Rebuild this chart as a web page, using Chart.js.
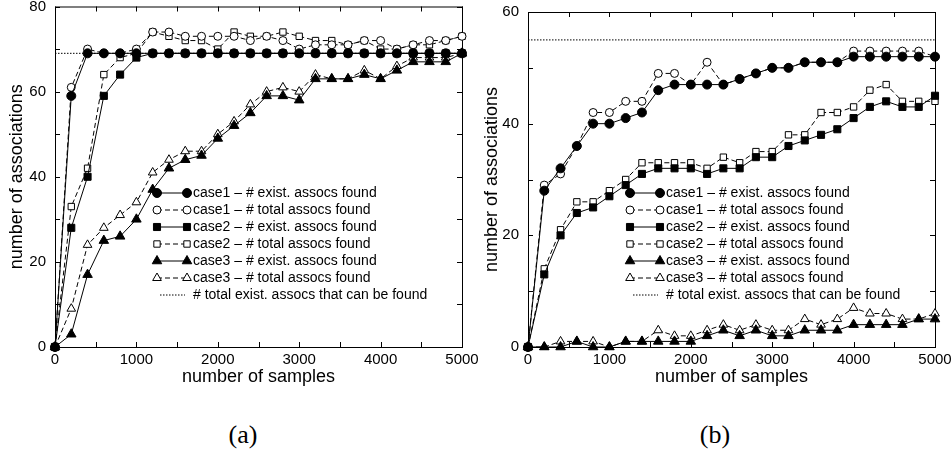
<!DOCTYPE html>
<html>
<head>
<meta charset="utf-8">
<script src="https://cdn.jsdelivr.net/npm/chart.js@4/dist/chart.umd.min.js"></script>
<style>
  body { margin: 0; background: #fff; width: 951px; height: 463px; overflow: hidden; position: relative; }
  .box { position: absolute; top: 0; }
  #boxA { left: 0; }
  #boxB { left: 475px; }
  .cap { position: absolute; top: 420px; width: 80px; text-align: center; line-height: 30px;
         font-family: "Liberation Serif", "DejaVu Serif", serif; font-size: 26px; color: #000; }
</style>
</head>
<body>
<div class="box" id="boxA"><canvas id="chartA" width="490" height="400"></canvas></div>
<div class="box" id="boxB"><canvas id="chartB" width="476" height="400"></canvas></div>
<div class="cap" style="left:203px">(a)</div>
<div class="cap" style="left:675px">(b)</div>
<script>
// number of samples (x positions of the points)
const samples = [0, 200, 400, 600, 800, 1000, 1200, 1400, 1600, 1800, 2000, 2200, 2400,
                 2600, 2800, 3000, 3200, 3400, 3600, 3800, 4000, 4200, 4400, 4600, 4800, 5000];

const labels = [
  'case1 \u2013 # exist. assocs found',
  'case1 \u2013 # total assocs found',
  'case2 \u2013 # exist. assocs found',
  'case2 \u2013 # total assocs found',
  'case3 \u2013 # exist. assocs found',
  'case3 \u2013 # total assocs found',
  '# total exist. assocs that can be found'
];

// (a)
const aCase1Exist = [0, 59, 69, 69, 69, 69, 69, 69, 69, 69, 69, 69, 69, 69, 69, 69, 69, 69, 69, 69, 69, 69, 69, 69, 69, 69];
const aCase1Total = [0, 61, 70, 69, 69, 70, 74, 74, 73, 73, 73, 73, 72, 73, 72, 70, 71, 71, 71, 72, 72, 70, 71, 72, 72, 73];
const aCase2Exist = [0, 28, 40, 59, 64, 68, 69, 69, 69, 69, 69, 69, 69, 69, 69, 69, 69, 69, 69, 69, 69, 69, 69, 69, 69, 69];
const aCase2Total = [0, 33, 42, 64, 68, 69, 74, 73, 72, 72, 70, 74, 73, 73, 74, 73, 72, 72, 71, 72, 70, 70, 71, 71, 72, 73];
const aCase3Exist = [0, 3, 17, 25, 26, 30, 37, 42, 44, 45, 49, 52, 55, 59, 59, 58, 63, 63, 63, 64, 63, 65, 67, 67, 67, 69];
const aCase3Total = [0, 9, 24, 28, 31, 34, 41, 44, 46, 46, 50, 53, 57, 60, 61, 60, 64, 63, 63, 65, 63, 66, 68, 68, 68, 69];
const aLimit = 69;

// (b)
const bCase1Exist = [0, 28, 32, 36, 40, 40, 41, 42, 46, 47, 47, 47, 47, 48, 49, 50, 50, 51, 51, 51, 52, 52, 52, 52, 52, 52];
const bCase1Total = [0, 29, 31, 36, 42, 42, 44, 44, 49, 49, 47, 51, 47, 48, 49, 50, 50, 51, 51, 51, 53, 53, 53, 53, 53, 52];
const bCase2Exist = [0, 13, 20, 24, 25, 27, 29, 31, 32, 32, 32, 31, 32, 32, 34, 34, 36, 37, 38, 39, 41, 43, 44, 43, 43, 45];
const bCase2Total = [0, 14, 21, 26, 26, 28, 30, 33, 33, 33, 33, 32, 34, 33, 35, 35, 38, 38, 42, 42, 43, 46, 47, 44, 44, 44];
const bCase3Exist = [0, 0, 0, 1, 0, 0, 1, 1, 1, 1, 1, 2, 3, 2, 3, 2, 2, 3, 3, 3, 4, 4, 4, 4, 5, 5];
const bCase3Total = [0, 0, 1, 1, 1, 0, 1, 1, 3, 2, 2, 3, 4, 3, 4, 3, 3, 5, 4, 5, 7, 6, 6, 5, 5, 6];
const bLimit = 55;

const FONT = '"Liberation Sans", Arial, sans-serif';
Chart.defaults.font.family = FONT;
Chart.defaults.color = '#000';

// marker look of each series: style, radius, filled
const markers = [
  ['circle', 4.5, true], ['circle', 4, false],
  ['rect', 5, true], ['rect', 4.5, false],
  ['triangle', 5.5, true], ['triangle', 5, false]
];

function drawMarker(ctx, style, r, x, y) {
  ctx.beginPath();
  if (style === 'circle') {
    ctx.arc(x, y, r, 0, Math.PI * 2);
  } else if (style === 'rect') {
    const s = r * Math.SQRT1_2;
    ctx.rect(x - s, y - s, 2 * s, 2 * s);
  } else {
    for (let k = 0; k < 3; k++) {
      const ang = k * 2 * Math.PI / 3;
      const px = x + Math.sin(ang) * r, py = y - Math.cos(ang) * r;
      k === 0 ? ctx.moveTo(px, py) : ctx.lineTo(px, py);
    }
    ctx.closePath();
  }
  ctx.fill();
  ctx.stroke();
}

// gnuplot-like frame with inward ticks on all four sides
const framePlugin = {
  id: 'frame',
  beforeDatasetsDraw(chart) {
    const { ctx, chartArea: a, scales: { x, y } } = chart;
    ctx.save();
    ctx.strokeStyle = '#000';
    ctx.lineWidth = 1;
    ctx.strokeRect(a.left + 0.5, a.top + 0.5, a.right - a.left, a.bottom - a.top);
    ctx.beginPath();
    x.ticks.forEach(t => {
      const px = Math.round(x.getPixelForValue(t.value)) + 0.5;
      ctx.moveTo(px, a.bottom); ctx.lineTo(px, a.bottom - 5);
      ctx.moveTo(px, a.top); ctx.lineTo(px, a.top + 5);
    });
    y.ticks.forEach(t => {
      const py = Math.round(y.getPixelForValue(t.value)) + 0.5;
      ctx.moveTo(a.left, py); ctx.lineTo(a.left + 5, py);
      ctx.moveTo(a.right, py); ctx.lineTo(a.right - 5, py);
    });
    ctx.stroke();
    ctx.restore();
  }
};

// key drawn inside the plot, gnuplot style (marker at both ends of the sample)
const keyPlugin = {
  id: 'key',
  afterDatasetsDraw(chart, args, opts) {
    const { ctx, chartArea: a } = chart;
    const x0 = a.left + opts.dx, x1 = x0 + 30;
    ctx.save();
    ctx.font = '14px ' + FONT;
    ctx.textBaseline = 'middle';
    chart.data.datasets.forEach((ds, i) => {
      const yy = opts.top + i * 17;
      ctx.strokeStyle = '#000';
      ctx.lineWidth = 1;
      ctx.setLineDash(ds.borderDash || []);
      ctx.beginPath();
      ctx.moveTo(x0 + (ds.pointRadius ? 0 : 3), yy);
      ctx.lineTo(x1 - (ds.pointRadius ? 0 : 2), yy);
      ctx.stroke();
      ctx.setLineDash([]);
      if (ds.pointRadius) {
        ctx.fillStyle = ds.pointBackgroundColor;
        drawMarker(ctx, ds.pointStyle, ds.pointRadius, x0, yy);
        drawMarker(ctx, ds.pointStyle, ds.pointRadius, x1, yy);
      }
      ctx.fillStyle = '#000';
      ctx.fillText(ds.label, x1 + 6, yy);
    });
    ctx.restore();
  }
};

function makeChart(id, series, limit, yMax, area) {
  const datasets = series.map((vals, i) => {
    const [style, r, filled] = markers[i];
    return {
      label: labels[i],
      data: samples.map((s, k) => ({ x: s, y: vals[k] })),
      borderColor: '#000',
      borderWidth: 1,
      borderDash: i % 2 ? [5, 3] : [],
      pointStyle: style,
      pointRadius: r,
      pointBackgroundColor: filled ? '#000' : '#fff',
      pointBorderColor: '#000',
      pointBorderWidth: 1,
      tension: 0,
      clip: false
    };
  });
  datasets.push({
    label: labels[6],
    data: [{ x: samples[0], y: limit }, { x: samples[samples.length - 1], y: limit }],
    borderColor: '#000',
    borderWidth: 1,
    borderDash: [1.5, 1.5],
    pointRadius: 0
  });

  return new Chart(document.getElementById(id), {
    type: 'line',
    data: { datasets },
    plugins: [framePlugin, keyPlugin],
    options: {
      responsive: false,
      animation: false,
      layout: { padding: { left: 0, right: area.right, top: area.top, bottom: 8 } },
      plugins: {
        legend: { display: false },
        tooltip: { enabled: false },
        key: { dx: 102, top: 193 }
      },
      scales: {
        x: {
          type: 'linear', min: 0, max: 5000,
          afterFit: s => { s.height = 45; s.paddingLeft = 0; s.paddingRight = 0; },
          grid: { drawOnChartArea: false, drawTicks: false },
          border: { display: false },
          ticks: {
            stepSize: 500, autoSkip: false, maxRotation: 0, padding: 4,
            font: { size: 15 },
            callback: v => (v % 1000 === 0 ? v : '')
          },
          title: { display: true, text: 'number of samples', font: { size: 18 }, padding: { top: 0, bottom: 4 } }
        },
        y: {
          min: 0, max: yMax,
          afterFit: s => { s.width = area.left; s.paddingTop = 0; s.paddingBottom = 0; },
          grid: { drawOnChartArea: false, drawTicks: false },
          border: { display: false },
          ticks: {
            stepSize: 10, autoSkip: false, padding: 9, includeBounds: false,
            font: { size: 15 },
            callback: v => (v % 20 === 0 ? v : '')
          },
          title: { display: true, text: 'number of associations', font: { size: 18 }, padding: { top: 6, bottom: 0 } }
        }
      }
    }
  });
}

makeChart('chartA', [aCase1Exist, aCase1Total, aCase2Exist, aCase2Total, aCase3Exist, aCase3Total],
  aLimit, 80, { left: 55, right: 28, top: 6 });
makeChart('chartB', [bCase1Exist, bCase1Total, bCase2Exist, bCase2Total, bCase3Exist, bCase3Total],
  bLimit, 60, { left: 53, right: 16, top: 12 });
</script>
</body>
</html>
